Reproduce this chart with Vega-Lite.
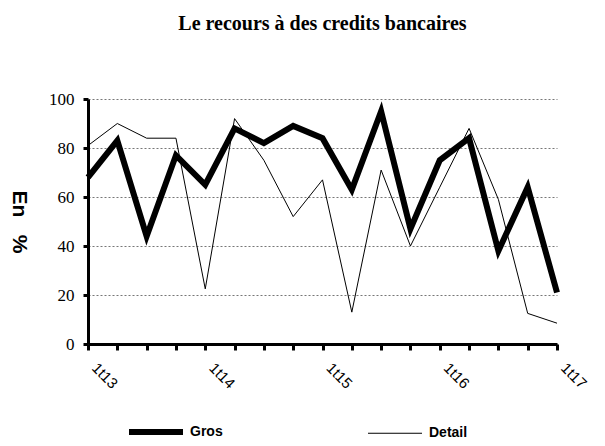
{
  "$schema": "https://vega.github.io/schema/vega-lite/v6.json",
  "width": 469,
  "height": 245,
  "autosize": "none",
  "padding": {"left": 88, "top": 99, "right": 48, "bottom": 102},
  "background": "white",
  "title": {
    "text": "Le recours à des credits bancaires",
    "font": "Liberation Serif",
    "fontSize": 20,
    "fontWeight": "bold",
    "color": "black",
    "anchor": "middle",
    "baseline": "alphabetic",
    "offset": 40
  },
  "config": {
    "view": {"stroke": null},
    "axis": {"domainColor": "black", "tickColor": "black", "labelColor": "black", "titleColor": "black"}
  },
  "data": {
    "values": [
      {"q": "1t13", "serie": "Gros", "v": 68}, {"q": "2t13", "serie": "Gros", "v": 83},
      {"q": "3t13", "serie": "Gros", "v": 44}, {"q": "4t13", "serie": "Gros", "v": 77},
      {"q": "1t14", "serie": "Gros", "v": 65}, {"q": "2t14", "serie": "Gros", "v": 88},
      {"q": "3t14", "serie": "Gros", "v": 82}, {"q": "4t14", "serie": "Gros", "v": 89},
      {"q": "1t15", "serie": "Gros", "v": 84}, {"q": "2t15", "serie": "Gros", "v": 63},
      {"q": "3t15", "serie": "Gros", "v": 95}, {"q": "4t15", "serie": "Gros", "v": 47},
      {"q": "1t16", "serie": "Gros", "v": 75}, {"q": "2t16", "serie": "Gros", "v": 84},
      {"q": "3t16", "serie": "Gros", "v": 38}, {"q": "4t16", "serie": "Gros", "v": 64},
      {"q": "1t17", "serie": "Gros", "v": 21},
      {"q": "1t13", "serie": "Detail", "v": 81}, {"q": "2t13", "serie": "Detail", "v": 90},
      {"q": "3t13", "serie": "Detail", "v": 84}, {"q": "4t13", "serie": "Detail", "v": 84},
      {"q": "1t14", "serie": "Detail", "v": 22.5}, {"q": "2t14", "serie": "Detail", "v": 92},
      {"q": "3t14", "serie": "Detail", "v": 75}, {"q": "4t14", "serie": "Detail", "v": 52},
      {"q": "1t15", "serie": "Detail", "v": 67}, {"q": "2t15", "serie": "Detail", "v": 13},
      {"q": "3t15", "serie": "Detail", "v": 71}, {"q": "4t15", "serie": "Detail", "v": 40},
      {"q": "1t16", "serie": "Detail", "v": 64}, {"q": "2t16", "serie": "Detail", "v": 88},
      {"q": "3t16", "serie": "Detail", "v": 59}, {"q": "4t16", "serie": "Detail", "v": 12.5},
      {"q": "1t17", "serie": "Detail", "v": 8.5}
    ]
  },
  "mark": {"type": "line", "color": "black", "strokeJoin": "miter"},
  "encoding": {
    "x": {
      "field": "q",
      "type": "ordinal",
      "sort": null,
      "scale": {"type": "point", "padding": 0},
      "axis": {
        "title": null,
        "labelExpr": "slice(datum.value,0,2)=='1t' ? datum.value : ''",
        "labelAngle": 45,
        "labelAlign": "left",
        "labelBaseline": "top",
        "labelFont": "Liberation Sans",
        "labelFontSize": 15,
        "labelFontWeight": "normal",
        "labelPadding": 10,
        "labelOffset": 11,
        "labelOverlap": false,
        "domainWidth": 3,
        "tickWidth": 3,
        "tickSize": 6,
        "grid": false
      }
    },
    "y": {
      "field": "v",
      "type": "quantitative",
      "scale": {"domain": [0, 100], "nice": false},
      "axis": {
        "title": "En\u00a0\u00a0\u00a0%",
        "titleFont": "Liberation Sans",
        "titleFontSize": 21,
        "titleFontWeight": "bold",
        "titleAngle": 90,
        "titleAlign": "center",
        "titleBaseline": "bottom",
        "titlePadding": 40,
        "values": [0, 20, 40, 60, 80, 100],
        "labelFont": "Liberation Serif",
        "labelFontSize": 17,
        "labelPadding": 9,
        "domainWidth": 3,
        "tickWidth": 3,
        "tickSize": 5,
        "grid": true,
        "gridColor": "#777777",
        "gridDash": [2, 2],
        "gridWidth": 1
      }
    },
    "strokeWidth": {
      "field": "serie",
      "type": "ordinal",
      "scale": {"domain": ["Gros", "Detail"], "range": [6, 1]},
      "legend": {
        "title": null,
        "orient": "none",
        "legendX": 38,
        "legendY": 303,
        "direction": "horizontal",
        "columns": 2,
        "columnPadding": 142,
        "symbolType": "stroke",
        "symbolSize": 2916,
        "symbolStrokeColor": "black",
        "labelFont": "Liberation Sans",
        "labelFontSize": 14,
        "labelFontWeight": "bold",
        "labelColor": "black",
        "labelOffset": 4
      }
    }
  }
}
